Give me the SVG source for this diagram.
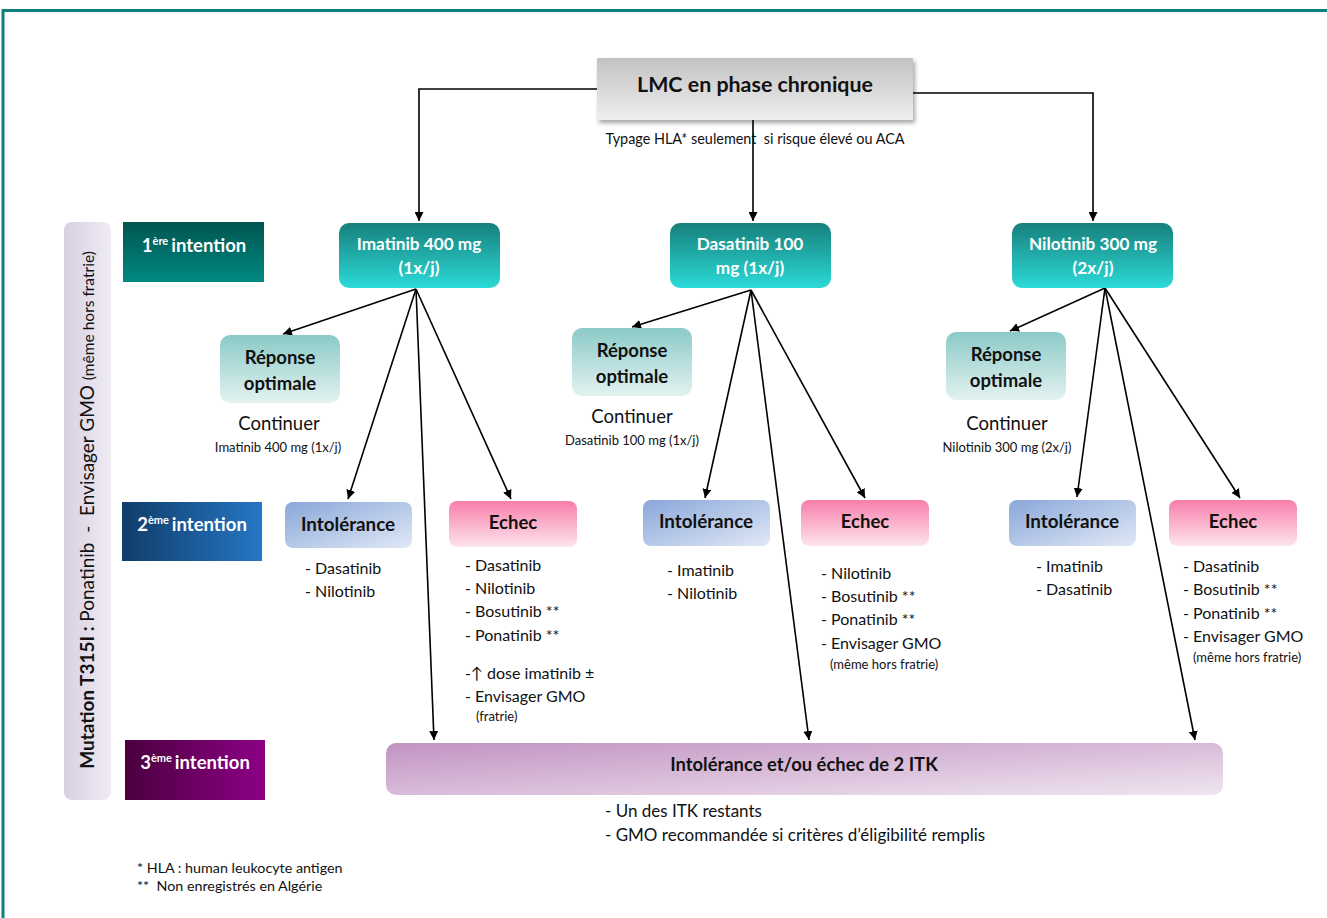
<svg xmlns="http://www.w3.org/2000/svg" width="1327" height="918" viewBox="0 0 1327 918">
  <defs>
    <linearGradient id="gLmc" x1="0" y1="0" x2="0" y2="1">
      <stop offset="0" stop-color="#c2c2c2"/>
      <stop offset="1" stop-color="#efefef"/>
    </linearGradient>
    <linearGradient id="gDrug" x1="0" y1="0" x2="0" y2="1">
      <stop offset="0" stop-color="#17807c"/>
      <stop offset="1" stop-color="#2bdad7"/>
    </linearGradient>
    <linearGradient id="gRep" x1="0" y1="0" x2="0" y2="1">
      <stop offset="0" stop-color="#8bcac7"/>
      <stop offset="1" stop-color="#e3f2f1"/>
    </linearGradient>
    <linearGradient id="gIntol" x1="0" y1="0" x2="1" y2="1">
      <stop offset="0" stop-color="#8aa7da"/>
      <stop offset="1" stop-color="#e0e8f5"/>
    </linearGradient>
    <linearGradient id="gEchec" x1="0" y1="0" x2="0" y2="1">
      <stop offset="0" stop-color="#f87eab"/>
      <stop offset="1" stop-color="#fde4ed"/>
    </linearGradient>
    <linearGradient id="gThird" x1="0" y1="0" x2="1" y2="1">
      <stop offset="0" stop-color="#c293c2"/>
      <stop offset="1" stop-color="#efe5f0"/>
    </linearGradient>
    <linearGradient id="gI1" x1="0" y1="0" x2="0" y2="1">
      <stop offset="0" stop-color="#005550"/>
      <stop offset="1" stop-color="#008982"/>
    </linearGradient>
    <linearGradient id="gI2" x1="0" y1="0" x2="1" y2="0">
      <stop offset="0" stop-color="#103d6a"/>
      <stop offset="1" stop-color="#2576c4"/>
    </linearGradient>
    <linearGradient id="gI3" x1="0" y1="0" x2="1" y2="0">
      <stop offset="0" stop-color="#4b003f"/>
      <stop offset="1" stop-color="#8d0086"/>
    </linearGradient>
    <linearGradient id="gBand" x1="0" y1="0" x2="1" y2="0">
      <stop offset="0" stop-color="#d8d0e2"/>
      <stop offset="1" stop-color="#efebf3"/>
    </linearGradient>
    <filter id="shadow" x="-10%" y="-20%" width="125%" height="150%">
      <feDropShadow dx="2" dy="3" stdDeviation="2" flood-color="#000" flood-opacity="0.35"/>
    </filter>
    <marker id="arrow" viewBox="0 0 10 10" refX="10" refY="5" markerWidth="9" markerHeight="9" markerUnits="userSpaceOnUse" orient="auto">
      <path d="M0,0 L10,5 L0,10 z" fill="#000"/>
    </marker>
    <style>
      text { font-family: "Lato", "Liberation Sans", sans-serif; fill: #111; white-space: pre; }
      .b { font-weight: bold; }
      .w { fill: #fff; font-weight: bold; }
      .mid { text-anchor: middle; }
      .lbl { font-size: 18.5px; }
      .item { font-size: 16px; }
      .small { font-size: 13px; }
      .note { font-size: 14.3px; }
      .conn line, .conn polyline { stroke: #000; stroke-width: 1.6; fill: none; }
      .conn .a { marker-end: url(#arrow); }
    </style>
  </defs>

  <rect width="1327" height="918" fill="#fff"/>
  <!-- frame -->
  <path d="M3,918 V10.5 H1327" fill="none" stroke="#137f7c" stroke-width="3"/>

  <!-- connectors -->
  <g id="connectors" class="conn">
    <polyline class="a" points="597,89 419,89 419,221"/>
    <line class="a" x1="753" y1="120" x2="753" y2="221"/>
    <polyline class="a" points="913,93 1093,93 1093,221"/>

    <line class="a" x1="416" y1="289" x2="283" y2="334"/>
    <line class="a" x1="416" y1="289" x2="348" y2="499"/>
    <line class="a" x1="416" y1="289" x2="434" y2="740"/>
    <line class="a" x1="416" y1="289" x2="511" y2="499"/>

    <line class="a" x1="751" y1="290" x2="632" y2="327"/>
    <line class="a" x1="751" y1="290" x2="705" y2="498"/>
    <line class="a" x1="751" y1="290" x2="809" y2="740"/>
    <line class="a" x1="751" y1="290" x2="865" y2="498"/>

    <line class="a" x1="1105" y1="288" x2="1010" y2="331"/>
    <line class="a" x1="1105" y1="288" x2="1077" y2="497"/>
    <line class="a" x1="1105" y1="288" x2="1195" y2="740"/>
    <line class="a" x1="1105" y1="288" x2="1240" y2="498"/>
  </g>

  <!-- root -->
  <g id="lmc">
    <rect x="597" y="58" width="316" height="62" fill="url(#gLmc)" filter="url(#shadow)"/>
    <text x="755" y="92" class="b mid" font-size="21.4">LMC en phase chronique</text>
    <text x="755" y="144" class="mid" font-size="14.4">Typage HLA* seulement  si risque élevé ou ACA</text>
  </g>

  <!-- side band -->
  <g id="t315i">
    <rect x="64" y="222" width="47" height="578" rx="8" fill="url(#gBand)"/>
    <text transform="translate(94,510) rotate(-90)" class="mid" font-size="19"><tspan font-weight="bold">Mutation T315I : </tspan>Ponatinib  -  Envisager GMO <tspan font-size="15.5">(même hors fratrie)</tspan></text>
  </g>

  <!-- line labels -->
  <g id="intention1">
    <rect x="123" y="222" width="141" height="60" fill="url(#gI1)"/>
    <text x="194" y="252" class="w mid" font-size="18.5">1<tspan font-size="11" dy="-7">ère</tspan><tspan dx="3" dy="7">intention</tspan></text>
  </g>
  <g id="intention2">
    <rect x="122" y="502" width="140" height="59" fill="url(#gI2)"/>
    <text x="192" y="531" class="w mid" font-size="18.5">2<tspan font-size="11" dy="-7">ème</tspan><tspan dx="3" dy="7">intention</tspan></text>
  </g>
  <g id="intention3">
    <rect x="125" y="740" width="140" height="60" fill="url(#gI3)"/>
    <text x="195" y="769" class="w mid" font-size="18.5">3<tspan font-size="11" dy="-7">ème</tspan><tspan dx="3" dy="7">intention</tspan></text>
  </g>

  <!-- first-line drugs -->
  <g id="imatinib">
    <rect x="339" y="223" width="161" height="65" rx="10" fill="url(#gDrug)"/>
    <text x="419" y="250" class="w mid" font-size="17.2">Imatinib 400 mg</text>
    <text x="419" y="274" class="w mid" font-size="17.2">(1x/j)</text>
  </g>
  <g id="dasatinib">
    <rect x="670" y="223" width="161" height="65" rx="10" fill="url(#gDrug)"/>
    <text x="750" y="250" class="w mid" font-size="17.2">Dasatinib 100</text>
    <text x="750" y="274" class="w mid" font-size="17.2">mg (1x/j)</text>
  </g>
  <g id="nilotinib">
    <rect x="1012" y="223" width="161" height="65" rx="10" fill="url(#gDrug)"/>
    <text x="1093" y="250" class="w mid" font-size="17.2">Nilotinib 300 mg</text>
    <text x="1093" y="274" class="w mid" font-size="17.2">(2x/j)</text>
  </g>

  <!-- optimal response -->
  <g id="reponse1">
    <rect x="220" y="335" width="120" height="68" rx="10" fill="url(#gRep)"/>
    <text x="280" y="364" class="b mid lbl">Réponse</text>
    <text x="280" y="390" class="b mid lbl">optimale</text>
    <text x="279" y="430" class="mid lbl">Continuer</text>
    <text x="278" y="452" class="mid small">Imatinib 400 mg (1x/j)</text>
  </g>
  <g id="reponse2">
    <rect x="572" y="328" width="120" height="68" rx="10" fill="url(#gRep)"/>
    <text x="632" y="357" class="b mid lbl">Réponse</text>
    <text x="632" y="383" class="b mid lbl">optimale</text>
    <text x="632" y="423" class="mid lbl">Continuer</text>
    <text x="632" y="445" class="mid small">Dasatinib 100 mg (1x/j)</text>
  </g>
  <g id="reponse3">
    <rect x="946" y="332" width="120" height="68" rx="10" fill="url(#gRep)"/>
    <text x="1006" y="361" class="b mid lbl">Réponse</text>
    <text x="1006" y="387" class="b mid lbl">optimale</text>
    <text x="1007" y="430" class="mid lbl">Continuer</text>
    <text x="1007" y="452" class="mid small">Nilotinib 300 mg (2x/j)</text>
  </g>

  <!-- intolerance -->
  <g id="intol1">
    <rect x="285" y="502" width="127" height="46" rx="8" fill="url(#gIntol)"/>
    <text x="348" y="531" class="b mid" font-size="18.8">Intolérance</text>
    <text x="305" y="574" class="item">- Dasatinib</text>
    <text x="305" y="597" class="item">- Nilotinib</text>
  </g>
  <g id="intol2">
    <rect x="643" y="500" width="127" height="46" rx="8" fill="url(#gIntol)"/>
    <text x="706" y="528" class="b mid" font-size="18.8">Intolérance</text>
    <text x="667" y="576" class="item">- Imatinib</text>
    <text x="667" y="599" class="item">- Nilotinib</text>
  </g>
  <g id="intol3">
    <rect x="1009" y="500" width="127" height="46" rx="8" fill="url(#gIntol)"/>
    <text x="1072" y="528" class="b mid" font-size="18.8">Intolérance</text>
    <text x="1036" y="572" class="item">- Imatinib</text>
    <text x="1036" y="595" class="item">- Dasatinib</text>
  </g>

  <!-- failure -->
  <g id="echec1">
    <rect x="449" y="501" width="128" height="46" rx="8" fill="url(#gEchec)"/>
    <text x="513" y="529" class="b mid lbl">Echec</text>
    <text x="465" y="571" class="item">- Dasatinib</text>
    <text x="465" y="594" class="item">- Nilotinib</text>
    <text x="465" y="617" class="item">- Bosutinib **</text>
    <text x="465" y="641" class="item">- Ponatinib **</text>
    <text x="465" y="679" class="item">-↑ dose imatinib ±</text>
    <text x="465" y="702" class="item">- Envisager GMO</text>
    <text x="476" y="721" class="small">(fratrie)</text>
  </g>
  <g id="echec2">
    <rect x="801" y="500" width="128" height="46" rx="8" fill="url(#gEchec)"/>
    <text x="865" y="528" class="b mid lbl">Echec</text>
    <text x="821" y="579" class="item">- Nilotinib</text>
    <text x="821" y="602" class="item">- Bosutinib **</text>
    <text x="821" y="625" class="item">- Ponatinib **</text>
    <text x="821" y="649" class="item">- Envisager GMO</text>
    <text x="830" y="669" class="small">(même hors fratrie)</text>
  </g>
  <g id="echec3">
    <rect x="1169" y="500" width="128" height="46" rx="8" fill="url(#gEchec)"/>
    <text x="1233" y="528" class="b mid lbl">Echec</text>
    <text x="1183" y="572" class="item">- Dasatinib</text>
    <text x="1183" y="595" class="item">- Bosutinib **</text>
    <text x="1183" y="619" class="item">- Ponatinib **</text>
    <text x="1183" y="642" class="item">- Envisager GMO</text>
    <text x="1193" y="662" class="small">(même hors fratrie)</text>
  </g>

  <!-- third line -->
  <g id="troisieme">
    <rect x="386" y="743" width="837" height="52" rx="10" fill="url(#gThird)"/>
    <text x="804" y="771" class="b mid" font-size="18.4">Intolérance et/ou échec de 2 ITK</text>
    <text x="605" y="817" font-size="17">- Un des ITK restants</text>
    <text x="605" y="841" font-size="17">- GMO recommandée si critères d’éligibilité remplis</text>
  </g>

  <!-- footnotes -->
  <g id="notes">
    <text x="137" y="873" class="note">* HLA : human leukocyte antigen</text>
    <text x="137" y="891" class="note">**  Non enregistrés en Algérie</text>
  </g>
</svg>
